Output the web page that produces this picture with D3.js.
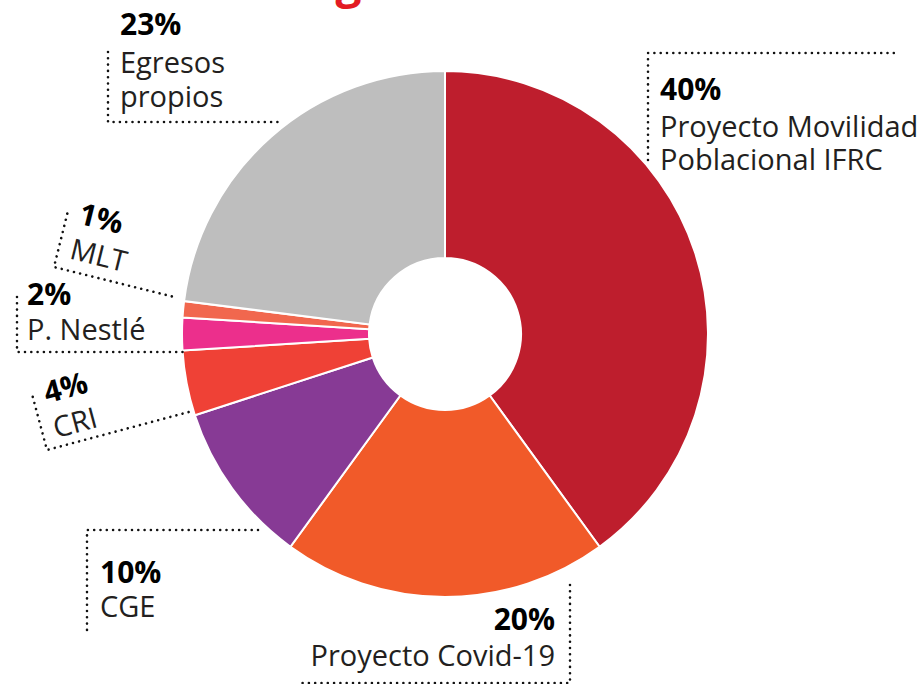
<!DOCTYPE html>
<html>
<head>
<meta charset="utf-8">
<script src="https://cdn.jsdelivr.net/npm/d3@7"></script>
<style>
html,body{margin:0;padding:0;background:#fff;}
svg{display:block;font-family:"Open Sans",sans-serif;}
</style>
</head>
<body>
<svg id="chart" width="921" height="684"></svg>
<script>
const categories = ["Proyecto Movilidad Poblacional IFRC","Proyecto Covid-19","CGE","CRI","P. Nestlé","MLT","Egresos propios"];
const values = [40,20,10,4,2,1,23];
const percentLabels = ["40%","20%","10%","4%","2%","1%","23%"];
const labelLines = [["Proyecto Movilidad","Poblacional IFRC"],["Proyecto Covid-19"],["CGE"],["CRI"],["P. Nestlé"],["MLT"],["Egresos","propios"]];
const colors = ["#BE1E2D","#F15A29","#873A95","#EF4136","#EC2F8C","#F1674E","#BEBEBE"];

const svg = d3.select("#chart");
const cx = 445, cy = 334, R = 263, r0 = 76;

// Title (mostly cut off at top, as in the reference)
svg.append("text").attr("x", 290).attr("y", -2)
  .attr("font-size", 46).attr("font-weight", 700).attr("fill", "#E31B23")
  .text("Ingresos");

const pie = d3.pie().sort(null).value(d => d).startAngle(0).endAngle(2*Math.PI);
const arc = d3.arc().innerRadius(r0).outerRadius(R);
const g = svg.append("g").attr("transform", `translate(${cx},${cy})`);
g.selectAll("path").data(pie(values)).join("path")
  .attr("d", arc).attr("fill", (d,i) => colors[i])
  .attr("stroke", "#fff").attr("stroke-width", 2);

// label layout (group origin, rotation, dotted leader polylines, text positions)
const layout = [
  {x:660, y:0, rot:0, anchor:"start", py:100, ly:[137,170], leaders:[[[-12,160],[-12,53],[235,53]]]},
  {x:555, y:0, rot:0, anchor:"end", py:630, ly:[666], leaders:[[[15,585],[15,683],[-255,683]]]},
  {x:100, y:0, rot:0, anchor:"start", py:583, ly:[617], leaders:[[[158,530],[-13,530],[-13,636]]]},
  {x:47, y:450, rot:-15, anchor:"start", py:-45, ly:[-9], dx:12, leaders:[[[0,-55],[0,0],[150,0]]]},
  {x:27, y:0, rot:0, anchor:"start", py:305, ly:[340], leaders:[[[-10,297],[-10,352],[156,352]]]},
  {x:54, y:267, rot:14, anchor:"start", py:-48, ly:[-12], dx:12, leaders:[[[0,-55],[0,0],[123,0]]]},
  {x:120, y:0, rot:0, anchor:"start", py:35, ly:[73,107], leaders:[[[-12,52],[-12,122],[160,122]]]}
];

const lineGen = d3.line();
layout.forEach((L, i) => {
  const grp = svg.append("g").attr("transform", `translate(${L.x},${L.y}) rotate(${L.rot})`);
  L.leaders.forEach(pts => grp.append("path").attr("d", lineGen(pts))
    .attr("fill","none").attr("stroke","#111").attr("stroke-width",2.6)
    .attr("stroke-linecap","round").attr("stroke-dasharray","0,6.3"));
  const dx = L.dx || 0;
  grp.append("text").attr("x", dx).attr("y", L.py).attr("text-anchor", L.anchor)
    .attr("font-size", 30).attr("font-weight", 700).attr("fill", "#000")
    .text(percentLabels[i]);
  labelLines[i].forEach((ln, k) => {
    grp.append("text").attr("x", dx).attr("y", L.ly[k]).attr("text-anchor", L.anchor)
      .attr("font-size", 29).attr("fill", "#231F20")
      .text(ln);
  });
});
</script>
</body>
</html>
